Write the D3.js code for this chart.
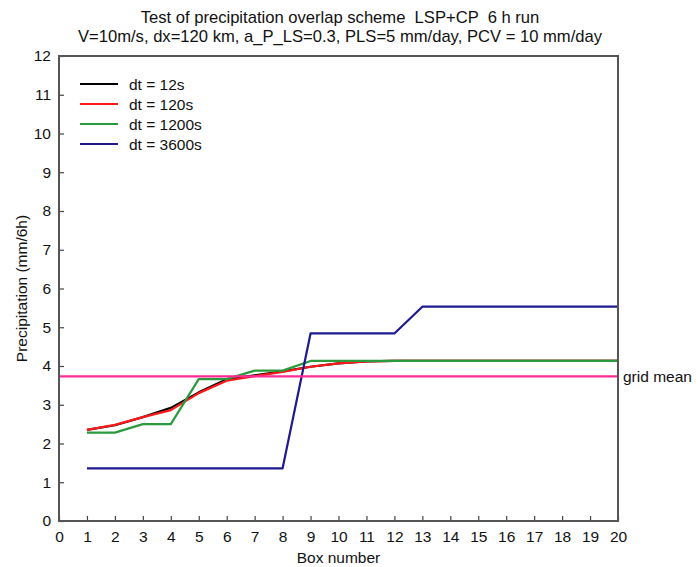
<!DOCTYPE html>
<html>
<head>
<meta charset="utf-8">
<script src="https://cdn.jsdelivr.net/npm/d3@7"></script>
<style>
  html, body { margin: 0; padding: 0; background: #fff; }
  svg { display: block; font-family: "Liberation Sans", Arial, Helvetica, sans-serif; }
</style>
</head>
<body>
<svg id="chart" width="698" height="567"></svg>
<script>
// Box numbers along the x axis
const boxes = d3.range(1, 21);

// Precipitation per box (mm/6h) for each time step
const dt12 =   [2.35, 2.47, 2.68, 2.92, 3.32, 3.66, 3.76, 3.86, 3.98, 4.07, 4.12, 4.13, 4.13, 4.13, 4.13, 4.13, 4.13, 4.13, 4.13, 4.13];
const dt120 =  [2.35, 2.48, 2.68, 2.86, 3.30, 3.62, 3.74, 3.85, 3.98, 4.07, 4.12, 4.13, 4.13, 4.13, 4.13, 4.13, 4.13, 4.13, 4.13, 4.13];
const dt1200 = [2.28, 2.28, 2.50, 2.50, 3.66, 3.66, 3.88, 3.88, 4.13, 4.13, 4.13, 4.13, 4.13, 4.13, 4.13, 4.13, 4.13, 4.13, 4.13, 4.13];
const dt3600 = [1.36, 1.36, 1.36, 1.36, 1.36, 1.36, 1.36, 1.36, 4.84, 4.84, 4.84, 4.84, 5.53, 5.53, 5.53, 5.53, 5.53, 5.53, 5.53, 5.53];

const gridMean = 3.73;

const seriesNames = ["dt = 12s", "dt = 120s", "dt = 1200s", "dt = 3600s"];
const seriesValues = [dt12, dt120, dt1200, dt3600];
const seriesColors = ["#000000", "#ff1a1a", "#2a9a3c", "#1c1a8e"];

const xTicks = d3.range(0, 21);
const yTicks = d3.range(0, 13);

const titleLines = [
  "Test of precipitation overlap scheme  LSP+CP  6 h run",
  "V=10m/s, dx=120 km, a_P_LS=0.3, PLS=5 mm/day, PCV = 10 mm/day"
];

const svg = d3.select("#chart");
const margin = { left: 59, right: 80, top: 56, bottom: 46 };
const W = 698, H = 567;

const x = d3.scaleLinear().domain([0, 20]).range([margin.left, W - margin.right]);
const y = d3.scaleLinear().domain([0, 12]).range([H - margin.bottom, margin.top]);

// Title (double spaces kept)
svg.append("g").selectAll("text").data(titleLines).join("text")
  .attr("x", 340).attr("y", (d, i) => 23 + i * 19)
  .attr("text-anchor", "middle")
  .attr("font-size", 16.6)
  .attr("fill", "#111")
  .style("white-space", "pre")
  .attr("xml:space", "preserve")
  .text(d => d);

// Axes with inward ticks
const xAxis = svg.append("g")
  .attr("transform", `translate(0,${y(0)})`)
  .call(d3.axisBottom(x).tickValues(xTicks).tickSize(-5).tickPadding(10).tickFormat(d3.format("d")));
const yAxis = svg.append("g")
  .attr("transform", `translate(${x(0)},0)`)
  .call(d3.axisLeft(y).tickValues(yTicks).tickSize(-5).tickPadding(8).tickFormat(d3.format("d")));

[xAxis, yAxis].forEach(g => {
  g.select(".domain").remove();
  g.selectAll(".tick line").attr("stroke", "#444").attr("stroke-width", 1.2);
  g.selectAll(".tick text").attr("font-size", 15.5).attr("fill", "#111")
    .attr("font-family", "'Liberation Sans', Arial, sans-serif");
});
xAxis.selectAll(".tick text").attr("dy", "0.71em");

// Series lines
const line = d3.line().x((d, i) => x(boxes[i])).y(d => y(d));
svg.append("g").selectAll("path").data(seriesValues).join("path")
  .attr("d", d => line(d))
  .attr("fill", "none")
  .attr("stroke", (d, i) => seriesColors[i])
  .attr("stroke-width", 2.2)
  .attr("stroke-linejoin", "round");

// Grid mean reference line
svg.append("line")
  .attr("x1", x(0)).attr("x2", x(20))
  .attr("y1", y(gridMean)).attr("y2", y(gridMean))
  .attr("stroke", "#ff2a96").attr("stroke-width", 2.2);
svg.append("text")
  .attr("x", x(20) + 5).attr("y", y(gridMean) + 5.5)
  .attr("font-size", 15.5).attr("fill", "#111")
  .text("grid mean");

// Plot frame
svg.append("rect")
  .attr("x", x(0)).attr("y", y(12))
  .attr("width", x(20) - x(0)).attr("height", y(0) - y(12))
  .attr("fill", "none").attr("stroke", "#555").attr("stroke-width", 2);

// Legend
const legend = svg.append("g").selectAll("g").data(seriesNames).join("g")
  .attr("transform", (d, i) => `translate(80,${84 + i * 20})`);
legend.append("line")
  .attr("x1", 0).attr("x2", 38)
  .attr("stroke", (d, i) => seriesColors[i]).attr("stroke-width", 2.2);
legend.append("text")
  .attr("x", 49).attr("y", 5.5)
  .attr("font-size", 15.5).attr("fill", "#111")
  .text(d => d);

// Axis titles
svg.append("text")
  .attr("x", x(10)).attr("y", 563)
  .attr("text-anchor", "middle").attr("font-size", 15.5).attr("fill", "#111")
  .text("Box number");
svg.append("text")
  .attr("transform", `translate(27,${y(6)}) rotate(-90)`)
  .attr("text-anchor", "middle").attr("font-size", 15.5).attr("fill", "#111")
  .text("Precipitation (mm/6h)");
</script>
</body>
</html>
